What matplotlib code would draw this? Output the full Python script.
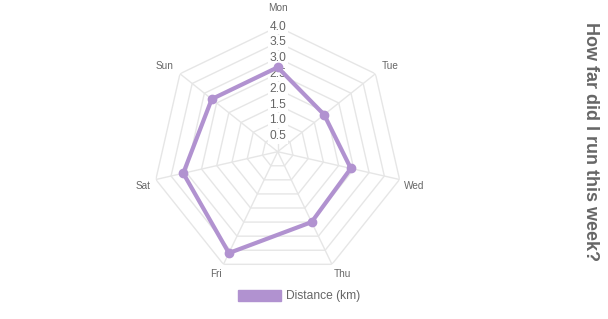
import numpy as np
import matplotlib
matplotlib.use("Agg")
import matplotlib.pyplot as plt
from matplotlib.patches import Patch

plt.rcParams['font.family'] = ['Liberation Sans', 'DejaVu Sans']

days = ["Mon", "Tue", "Wed", "Thu", "Fri", "Sat", "Sun"]
distance = [2.7, 1.9, 2.4, 2.5, 3.6, 3.1, 2.7]
ticks = [0.5, 1.0, 1.5, 2.0, 2.5, 3.0, 3.5, 4.0]
series_label = "Distance (km)"
title = "How far did I run this week?"

purple = "#b192d0"
grid_col = "#e6e6e6"
text_col = "#666666"

W, H = 608, 319
fig = plt.figure(figsize=(W / 100, H / 100), dpi=100)

# polar axes placed so the centre sits at (277.7, 151.7) px with radius 125 px
cx, cy, R = 277.7, 151.7, 125
ax = fig.add_axes([(cx - R) / W, (H - cy - R) / H, 2 * R / W, 2 * R / H], projection="polar")
ax.set_theta_zero_location("N")
ax.set_theta_direction(-1)
ax.set_ylim(0, 4)
ax.grid(False)
ax.spines["polar"].set_visible(False)
ax.set_xticks([])
ax.set_yticks([])
ax.patch.set_alpha(0)

n = len(days)
angles = np.arange(n) * 2 * np.pi / n
closed = np.append(angles, angles[0])

# polygon grid rings and angle lines
for t in ticks:
    ax.plot(closed, [t] * (n + 1), color=grid_col, lw=1, zorder=1)
for a in angles:
    ax.plot([a, a], [0, ticks[-1]], color=grid_col, lw=1, zorder=1)

# tick labels along the Mon axis with white backdrop
for t in ticks:
    ax.text(0, t, f"{t:.1f}", ha="center", va="center", fontsize=8.64, color=text_col,
            bbox=dict(facecolor="white", edgecolor="none", pad=1.0), zorder=2)

# point labels around the outside
for i, (a, d) in enumerate(zip(angles, days)):
    deg = np.degrees(a)
    upper = deg < 90 or deg > 270
    off = (13 if i == 0 else 5) + (3 if upper else 0)
    dx = off * np.sin(a)
    dy = off * np.cos(a)
    if abs(np.sin(a)) < 1e-6:
        ha = "center"
    elif np.sin(a) > 0:
        ha = "left"
    else:
        ha = "right"
    va = "baseline" if upper else "top"
    ax.annotate(d, xy=(a, ticks[-1]), xytext=(dx, dy), textcoords="offset pixels",
                ha=ha, va=va, fontsize=7.2, color=text_col, annotation_clip=False)

# data line
vals = distance + distance[:1]
ax.plot(closed, vals, color=purple, lw=3, zorder=3, solid_joinstyle="miter")
ax.plot(angles, distance, "o", color=purple, ms=6, zorder=4)

# legend
fig.legend(handles=[Patch(facecolor=purple, edgecolor=purple, label=series_label)],
           loc="center", bbox_to_anchor=(299 / W, (H - 296) / H), frameon=False,
           fontsize=8.64, labelcolor=text_col, handlelength=3.6, handleheight=1.0,
           handletextpad=0.4, borderpad=0)

# title on the right, reading top to bottom
fig.text(591 / W, (H - 142) / H, title, rotation=-90, ha="center", va="center",
         fontsize=13, fontweight="bold", color=text_col)

fig.savefig("out.png", dpi=100)
